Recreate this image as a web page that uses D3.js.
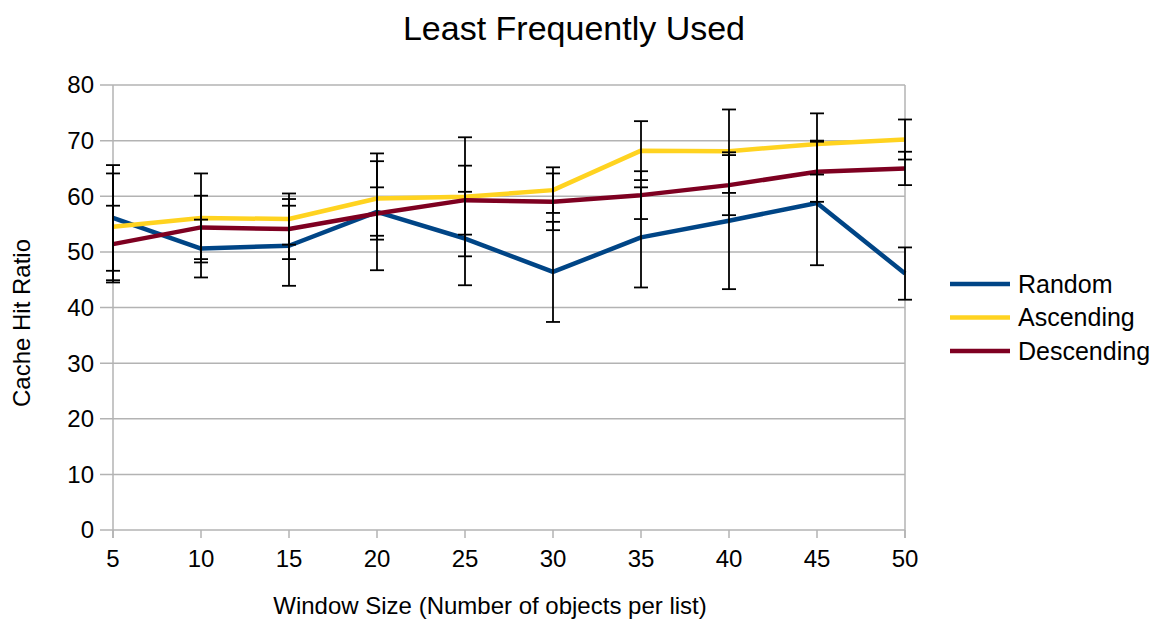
<!DOCTYPE html>
<html>
<head>
<meta charset="utf-8">
<script src="https://cdn.jsdelivr.net/npm/d3@7"></script>
<style>
  body { margin: 0; background: #fff; }
  svg { font-family: "Liberation Sans", Arial, sans-serif; }
</style>
</head>
<body>
<div id="chart"></div>
<script>
const windowSizes = [5, 10, 15, 20, 25, 30, 35, 40, 45, 50];
const yTicks = [0, 10, 20, 30, 40, 50, 60, 70, 80];

const randomHit = [56.1, 50.6, 51.1, 57.2, 52.4, 46.4, 52.6, 55.6, 58.8, 46.1];
const randomErr = [9.5, 5.2, 7.2, 10.5, 8.4, 9.0, 9.0, 12.3, 11.2, 4.7];
const ascendingHit = [54.5, 56.1, 55.9, 59.6, 59.9, 61.1, 68.2, 68.1, 69.4, 70.2];
const ascendingErr = [9.6, 8.0, 4.6, 6.7, 10.7, 4.1, 5.3, 7.5, 5.5, 3.6];
const descendingHit = [51.4, 54.4, 54.1, 56.9, 59.3, 59.0, 60.2, 62.0, 64.4, 65.0];
const descendingErr = [6.9, 5.7, 5.4, 4.7, 6.2, 5.1, 4.3, 5.4, 5.4, 3.0];

const series = [
  { name: 'Random', values: randomHit, err: randomErr, color: '#004586' },
  { name: 'Ascending', values: ascendingHit, err: ascendingErr, color: '#ffd320' },
  { name: 'Descending', values: descendingHit, err: descendingErr, color: '#7e0021' }
];

const width = 1166, height = 625;
const margin = { top: 85, right: 261, bottom: 95, left: 113 };
const w = width - margin.left - margin.right;
const h = height - margin.top - margin.bottom;

const svg = d3.select('#chart').append('svg').attr('width', width).attr('height', height);
const g = svg.append('g').attr('transform', `translate(${margin.left},${margin.top})`);

const x = d3.scalePoint().domain(windowSizes).range([0, w]);
const y = d3.scaleLinear().domain([0, 80]).range([h, 0]);

// horizontal grid
g.selectAll('.grid').data(yTicks).enter().append('line')
  .attr('x1', -13).attr('x2', w)
  .attr('y1', d => y(d)).attr('y2', d => y(d))
  .attr('stroke', '#b3b3b3').attr('stroke-width', 1.5);

// side borders
g.append('line').attr('x1', 0).attr('x2', 0).attr('y1', 0).attr('y2', h + 8)
  .attr('stroke', '#b3b3b3').attr('stroke-width', 1.5);
g.append('line').attr('x1', w).attr('x2', w).attr('y1', 0).attr('y2', h + 8)
  .attr('stroke', '#b3b3b3').attr('stroke-width', 1.5);

// x tick marks
g.selectAll('.xtick').data(windowSizes).enter().append('line')
  .attr('x1', d => x(d)).attr('x2', d => x(d))
  .attr('y1', h).attr('y2', h + 8)
  .attr('stroke', '#b3b3b3').attr('stroke-width', 1.5);

// tick labels
g.selectAll('.ylab').data(yTicks).enter().append('text')
  .attr('x', -19).attr('y', d => y(d)).attr('dy', '0.35em')
  .attr('text-anchor', 'end').attr('font-size', 24).attr('fill', '#000')
  .text(d => d);
g.selectAll('.xlab').data(windowSizes).enter().append('text')
  .attr('x', d => x(d)).attr('y', h + 37)
  .attr('text-anchor', 'middle').attr('font-size', 24).attr('fill', '#000')
  .text(d => d);

const line = d3.line().x((d, i) => x(windowSizes[i])).y(d => y(d));

series.forEach(s => {
  g.append('path').datum(s.values)
    .attr('fill', 'none').attr('stroke', s.color).attr('stroke-width', 4.5)
    .attr('stroke-linejoin', 'round')
    .attr('d', line);
});

// error bars
const cap = 7;
series.forEach(s => {
  const eb = g.append('g');
  s.values.forEach((v, i) => {
    const cx = x(windowSizes[i]);
    const hi = y(v + s.err[i]), lo = y(v - s.err[i]);
    eb.append('line').attr('x1', cx).attr('x2', cx).attr('y1', hi).attr('y2', lo)
      .attr('stroke', '#000').attr('stroke-width', 1.8);
    [hi, lo].forEach(yy => {
      eb.append('line').attr('x1', cx - cap).attr('x2', cx + cap).attr('y1', yy).attr('y2', yy)
        .attr('stroke', '#000').attr('stroke-width', 1.8);
    });
  });
});

// titles
svg.append('text').attr('x', 574).attr('y', 40).attr('text-anchor', 'middle')
  .attr('font-size', 34).attr('fill', '#000').text('Least Frequently Used');
svg.append('text').attr('x', 490).attr('y', 614).attr('text-anchor', 'middle')
  .attr('font-size', 24).attr('fill', '#000').text('Window Size (Number of objects per list)');
svg.append('text').attr('transform', 'translate(30,323) rotate(-90)').attr('text-anchor', 'middle')
  .attr('font-size', 24).attr('fill', '#000').text('Cache Hit Ratio');

// legend
const legend = svg.append('g').attr('transform', 'translate(950,284)');
series.forEach((s, i) => {
  const row = legend.append('g').attr('transform', `translate(0,${i * 33.5})`);
  row.append('line').attr('x1', 0).attr('x2', 60).attr('y1', 0).attr('y2', 0)
    .attr('stroke', s.color).attr('stroke-width', 4.5);
  row.append('text').attr('x', 68).attr('y', 0).attr('dy', '0.35em')
    .attr('font-size', 25).attr('fill', '#000').text(s.name);
});
</script>
</body>
</html>
